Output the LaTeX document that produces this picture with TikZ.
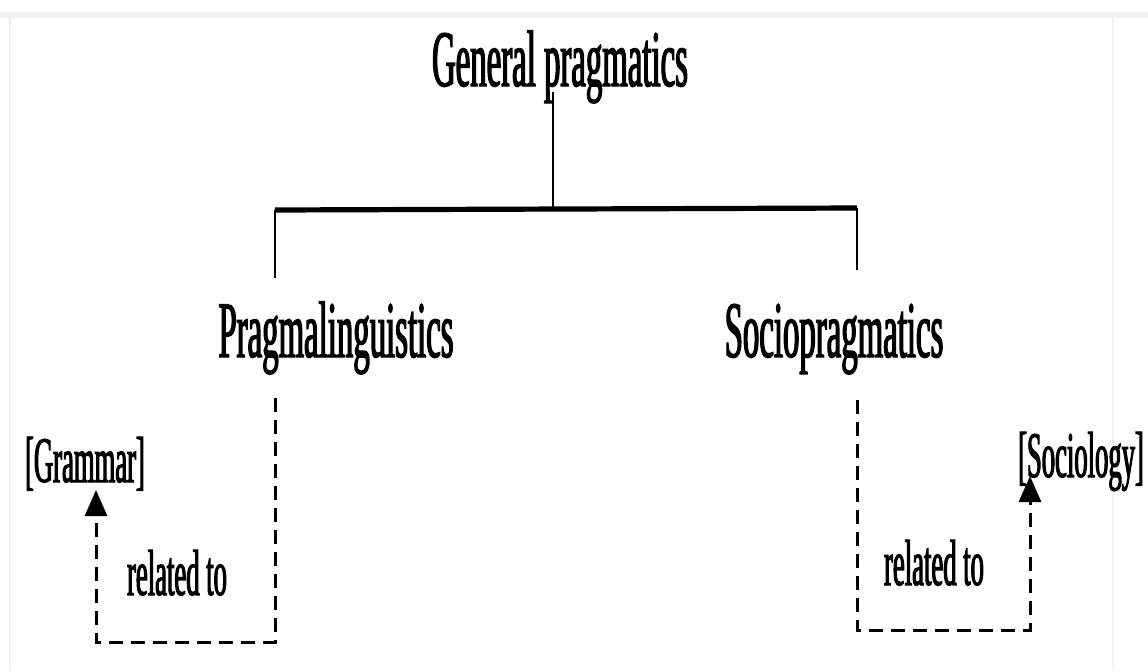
\documentclass[tikz,border=0pt]{standalone}
\usepackage{fontspec}
\usetikzlibrary{arrows.meta}
% narrow, heavy serif face used for every label
\newfontfamily\labelfont{Liberation Serif}[FakeStretch=0.41, FakeBold=1.6]
\begin{document}
\begin{tikzpicture}[x=0.5pt, y=-0.5pt,
  bigterm/.style={inner sep=0pt, anchor=base, font=\labelfont\fontsize{40}{48}\selectfont},
  smallterm/.style={inner sep=0pt, anchor=base, font=\labelfont\fontsize{32.5}{40}\selectfont},
  branch/.style={line width=1pt},
  bar/.style={line width=2.6pt},
  relation/.style={line width=1.5pt, dash pattern=on 7pt off 4pt},
  relarrow/.style={relation, -{Triangle[length=13pt, width=11pt]}}]
\useasboundingbox (0,0) rectangle (1148,671);
\fill[white] (0,0) rectangle (1148,671);
% faint page edges
\fill[black!6] (0,12) rectangle (1148,18);
\draw[black!6, line width=0.8pt] (10,18) -- (10,671);
\draw[black!5, line width=0.8pt] (1113,18) -- (1113,671);

% labels
\node[bigterm] (gp) at (560,86) {General pragmatics};
\node[bigterm] (pl) at (336,357) {Pragmalinguistics};
\node[bigterm] (sp) at (834,357) {Sociopragmatics};
\node[smallterm] (gr) at (85,482) {[Grammar]};
\node[smallterm] (so) at (1081,477) {[Sociology]};
\node[smallterm] (rl) at (177,595) {related to};
\node[smallterm] (rr) at (934,585) {related to};

% tree joints
\coordinate (stem) at (553,92);
\coordinate (mid) at (553,209);
\coordinate (barL) at (275,210);
\coordinate (barR) at (857,208);
\coordinate (legL) at (275,278);
\coordinate (legR) at (857,270);

\draw[branch] (stem) -- (mid);
\draw[bar] (barL) -- (barR);
\draw[branch] (barL) -- (legL);
\draw[branch] (barR) -- (legR);

% relation links
\coordinate (lTop) at (275,398);
\coordinate (lBot) at (275,642);
\coordinate (lCorner) at (96,642);
\coordinate (lTip) at (96,490);
\coordinate (rTop) at (857,400);
\coordinate (rBot) at (857,630);
\coordinate (rCorner) at (1030,630);
\coordinate (rTip) at (1030,476);

\draw[relarrow] (lTop) -- (lBot) -- (lCorner) -- (lTip);
\draw[relarrow] (rTop) -- (rBot) -- (rCorner) -- (rTip);
\end{tikzpicture}
\end{document}
